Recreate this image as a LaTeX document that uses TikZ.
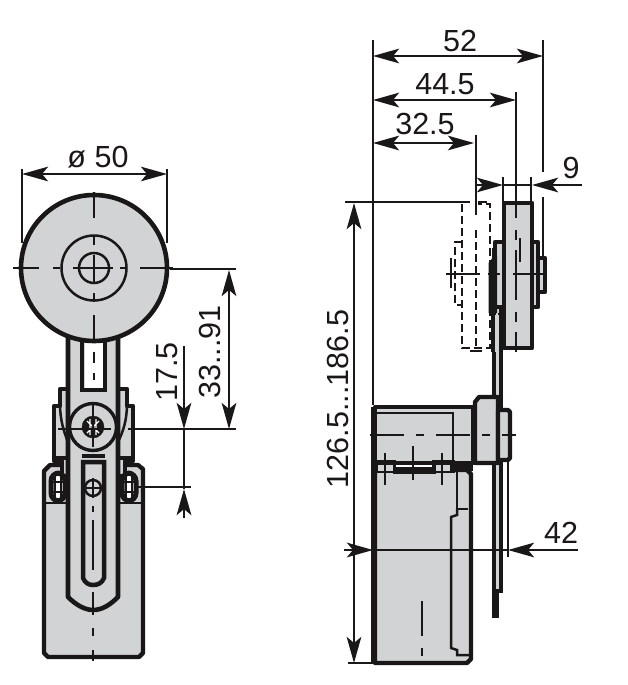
\documentclass[tikz,border=0pt]{standalone}
\usepackage{fontspec}
\setmainfont{Liberation Sans}
\usetikzlibrary{arrows.meta}
\definecolor{partgray}{HTML}{D1D3D4}
\definecolor{ink}{HTML}{1A1718}
\tikzset{
  part/.style={draw=ink,fill=partgray,line width=4.3pt,line join=round},
  heavy/.style={draw=ink,line width=4.5pt},
  thin line/.style={draw=ink,line width=2.5pt},
  extline/.style={draw=ink,line width=2.7pt},
  centre/.style={draw=ink,line width=2.4pt,dash pattern=on 22pt off 7pt on 7pt off 7pt},
  hidden/.style={draw=ink,line width=2.8pt,dash pattern=on 8pt off 4pt},
  dimline/.style={draw=ink,line width=2.7pt},
  dimarrow/.style={dimline,-{Stealth[length=26pt,width=14.5pt,inset=6pt]}},
  dimboth/.style={dimline,{Stealth[length=26pt,width=14.5pt,inset=6pt]}-{Stealth[length=26pt,width=14.5pt,inset=6pt]}},
  dimtext/.style={text=ink,inner sep=0pt,font=\fontsize{30.5}{30.5}\selectfont},
}
\begin{document}
\begin{tikzpicture}[x=1pt,y=-1pt]
\useasboundingbox (0,0) rectangle (628,685);
\fill[white] (0,0) rectangle (628,685);

%%% LEFT VIEW
% body
\path[part] (46,469) -- (50,465) -- (138,465) -- (143,469) -- (143,653) -- (139,657) -- (48,657) -- (44,653) -- (44,471) -- cycle;
\draw[thin line] (46,503) -- (141,503);
% head
\path[part] (54,461) -- (54,406) -- (60,406) -- (60,389) -- (127,389) -- (127,406) -- (133,406) -- (133,461) -- (125,461) -- (125,476) -- (62,476) -- (62,461) -- cycle;
\draw[thin line] (60,404) .. controls (60,420) and (64,432) .. (68,442);
\draw[thin line] (127,404) .. controls (127,420) and (123,432) .. (118,442);
% fork feet
\draw[heavy] (54,458) -- (67,458) (120,458) -- (133,458);
% lever
\path[part,line width=4.6pt] (68,315) -- (68,597) .. controls (76,605) and (85,610) .. (93,610) .. controls (102,610) and (110,605) .. (118,597) -- (118,315) -- cycle;
\draw[heavy] (82,340) -- (82,388) (105,340) -- (105,388);
\fill[white] (85,338) rectangle (103,388);
\draw[heavy] (80,390) -- (107,390);
% lever slot
\path[heavy,fill=partgray] (83,462) -- (83,578) .. controls (85,583) and (89,585) .. (93,585) .. controls (98,585) and (102,583) .. (104,578) -- (104,462) -- cycle;
\draw[heavy] (82,456) -- (105,456);
% roller
\node[circle,draw=ink,fill=partgray,line width=4.6pt,minimum size=146pt,inner sep=0pt] (roller) at (94,268) {};
\fill[white] (85,344) rectangle (103,346);
\node[circle,thin line,minimum size=65pt,inner sep=0pt] (hubA) at (94,268) {};
\node[circle,thin line,minimum size=30pt,inner sep=0pt] (hubB) at (94,268) {};
% pivot
\node[circle,part,line width=3.4pt,minimum size=47pt,inner sep=0pt] (pivot) at (93,427) {};
\node[circle,draw=ink,fill=ink,minimum size=22pt,inner sep=0pt] (screw) at (93,427) {};
\draw[white,line width=1.4pt] (87,421) -- (99,433) (99,421) -- (87,433) (90,419) -- (90,435) (96,419) -- (96,435);
% lower small circle
\node[circle,thin line,fill=partgray,minimum size=16pt,inner sep=0pt] (lowhole) at (93,488) {};
\draw[thin line] (83,488) -- (103,488) (93,478) -- (93,498);
% side screws
\foreach \nm/\cx in {sa/58,sb/129}{
  \node[rounded corners=8pt,draw=ink,fill=white,line width=5pt,minimum width=14pt,minimum height=28pt,inner sep=0pt] (\nm) at (\cx,487) {};
  \draw[ink,line width=1.6pt] (\cx-3,474) -- (\cx-3,500) (\cx+3,474) -- (\cx+3,500) (\cx-6,482) -- (\cx+6,482) (\cx-6,492) -- (\cx+6,492);
}
% centre lines left
\draw[thin line] (94,192) -- (94,218) (94,237) -- (94,245) (94,255) -- (94,282) (94,293) -- (94,302) (94,315) -- (94,343) (94,352) -- (94,363) (94,373) -- (94,380);
\draw[thin line] (93,506) -- (93,512) (93,520) -- (93,570);
\draw[thin line] (93,592) -- (93,615) (93,628) -- (93,636) (93,650) -- (93,661);
\draw[thin line] (13,268) -- (39,268) (53,268) -- (60,268) (73,268) -- (113,268) (120,268) -- (127,268) (140,268) -- (173,268);
\draw[thin line] (58,429) -- (111,429);
\draw[thin line] (93,405) -- (93,447);
% dimensions left
\coordinate (dA) at (22,174); \coordinate (dB) at (167,174);
\draw[extline] (22,169) -- (22,243) (167,169) -- (167,243);
\draw[dimboth] (dA) -- (dB);
\node[dimtext] (t50) at (98,157) {ø 50};
\draw[extline] (170,269) -- (236,269);
\draw[extline] (128,429) -- (236,429);
\draw[extline] (137,487) -- (191,487);
\coordinate (h1) at (229,270); \coordinate (h2) at (229,429);
\draw[dimboth] (h1) -- (h2);
\node[dimtext,rotate=90] (t3391) at (210,352) {33...91};
\coordinate (k0) at (184,346); \coordinate (k1) at (184,429); \coordinate (k2) at (184,518); \coordinate (k3) at (184,489);
\draw[dimarrow] (k0) -- (k1);
\draw[dimline] (k1) -- (k3);
\draw[dimarrow] (k2) -- (k3);
\node[dimtext,rotate=90] (t175) at (167,372) {17.5};

%%% RIGHT VIEW
% dashed ghost roller
\draw[hidden] (462,204) -- (462,348) -- (490,348) -- (490,204) -- (478,204);
\draw[hidden] (462,242) -- (455,242) -- (455,305) -- (462,305);
% switch head
\path[part] (375,407) -- (473,407) -- (473,463) -- (375,463) -- cycle;
% switch body
\path[part] (375,470) -- (467,470) -- (471,474) -- (471,659) -- (467,663) -- (375,663) -- cycle;
\draw[heavy] (373,407) -- (373,663);
\draw[thin line] (375,413) -- (453,413) -- (453,460);
\draw[thin line] (457,470) -- (457,509) -- (468,509);
\draw[thin line] (457,509) -- (457,515) -- (451,517) -- (451,648) -- (457,650) -- (457,655) -- (469,655);
% screw blocks
\fill[ink] (375,460) rectangle (396,473);
\fill[partgray] (378,464.5) rectangle (393,471);
\fill[ink] (432,460) rectangle (455,473);
\fill[partgray] (436,464.5) rectangle (450,471);
\fill[ink] (393,467) rectangle (436,474);
\fill[ink] (450,463) rectangle (473,471);
\draw[thin line] (385,453) -- (385,485) (413,446) -- (413,480) (442,453) -- (442,485);
\draw[thin line] (422,601) -- (422,636) (422,648) -- (422,656);
% lever right
\draw[draw=ink,fill=partgray,line width=4pt] (494,250) rectangle (500.5,591);
\fill[ink] (491.5,590) rectangle (499,618);
% boss and cap
\path[part] (475,402) -- (479,397) -- (498,397) -- (498,463) -- (475,463) -- cycle;
\path[part] (498,410) -- (508,410) -- (510,412) -- (510,458) -- (508,460) -- (498,460) -- cycle;
% roller side
\path[part] (495,242) rectangle (538,307);
\path[part] (538,258) -- (545,258) -- (545,292) -- (538,292) -- cycle;
\path[part,line width=4.6pt] (504,203) rectangle (532,348);
\fill[ink] (488.5,263) -- (494,256) -- (497,256) -- (497,313) -- (488.5,313) -- cycle;
\draw[heavy] (493,313) -- (493,352) (500.5,313) -- (500.5,352);
\fill[partgray] (495,315) rectangle (498.5,352);
% extension and centre lines
\draw[extline] (373,40) -- (373,405);
\draw[extline] (543,40) -- (543,172);
\draw[extline] (543,197) -- (543,258);
\draw[extline] (516,92) -- (516,218);
\draw[extline] (476,135) -- (476,215);
\draw[extline] (503,177) -- (503,202);
\draw[extline] (531,177) -- (531,202);
\draw[extline] (345,202) -- (470,202);
\draw[extline] (478,202) -- (487,202);
\draw[hidden] (476,230) -- (476,352);
\draw[extline] (470,351) -- (482,351);
\draw[thin line] (516,230) -- (516,240) (516,250) -- (516,300) (516,312) -- (516,322) (516,332) -- (516,352);
\draw[thin line] (520,238) -- (520,262);
\draw[thin line] (446,274) -- (480,274) (513,274) -- (547,274);
\draw[thin line] (451,258) -- (451,288);
\draw[thin line] (488,274) -- (500,274);
\draw[draw=ink,line width=2.6pt,dash pattern=on 34pt off 12pt on 8pt off 12pt] (370,435) -- (516,435);
\draw[extline] (348,663) -- (375,663);
\draw[extline] (508,462) -- (508,557);
% dimensions right
\coordinate (w0) at (373,56); \coordinate (w1) at (543,56);
\draw[dimboth] (w0) -- (w1);
\node[dimtext] (t52) at (460,41) {52};
\coordinate (x0) at (373,100); \coordinate (x1) at (516,100);
\draw[dimboth] (x0) -- (x1);
\node[dimtext] (t445) at (445,84) {44.5};
\coordinate (y0) at (373,143); \coordinate (y1) at (474,143);
\draw[dimboth] (y0) -- (y1);
\node[dimtext] (t325) at (425,124) {32.5};
\coordinate (z0) at (477,185); \coordinate (z1) at (503,185); \coordinate (z2) at (582,185); \coordinate (z3) at (532,185);
\draw[dimarrow] (z0) -- (z1);
\draw[dimarrow] (z2) -- (z3);
\draw[dimline] (z1) -- (z3);
\node[dimtext] (t9) at (571,168) {9};
\coordinate (v0) at (354,203); \coordinate (v1) at (354,663);
\draw[dimboth] (v0) -- (v1);
\node[dimtext,rotate=90] (t126) at (338,399) {126.5...186.5};
\coordinate (q0) at (344,550); \coordinate (q1) at (373,550); \coordinate (q2) at (578,550); \coordinate (q3) at (508,550);
\draw[dimline] (q1) -- (q3);
\draw[dimarrow] (q0) -- (q1);
\draw[dimarrow] (q2) -- (q3);
\node[dimtext] (t42) at (561,533) {42};
\end{tikzpicture}
\end{document}
